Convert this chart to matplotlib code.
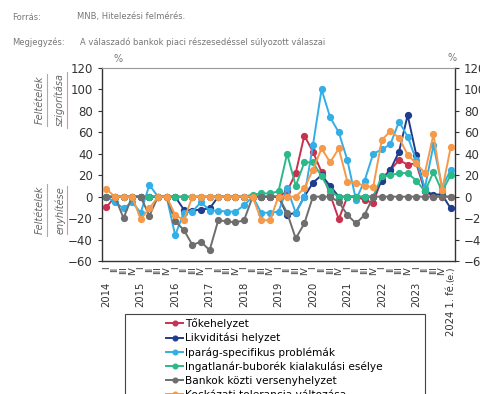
import numpy as np
import matplotlib
matplotlib.use("Agg")
import matplotlib.pyplot as plt
from matplotlib.patches import Rectangle
from matplotlib.lines import Line2D

# categories: 2014 I .. 2023 IV, then 2024 H1 (expected)
years = [str(y) for y in range(2014, 2024)] + ["2024 1. fé."]
quarters = ["I", "II", "III", "IV"]
quarter_labels = quarters * 10 + ["(e.)"]

tokehelyzet = [-10, 0, 0, 0, 0, 0, 0, 0, 0, 0, 0, 0, 0, 0, 0, 0, 0, 0, 0, 0,
               0, 5, 22, 57, 42, 23, 2, -21, 0, 0, -3, -6, 17, 25, 34, 30, 31, 5, 0, 0, 0]
likviditas = [0, 0, 0, 0, 0, 0, 0, 0, 0, -12, -13, -12, -11, 0, 0, 0, 0, 0, 0, 0,
              0, -17, -15, 0, 13, 20, 10, 0, 0, 0, 0, 0, 15, 25, 42, 76, 39, 5, 2, 2, -11]
iparag = [0, -5, -11, -5, -15, 11, 0, 0, -36, -15, -14, -5, -13, -13, -14, -14, -8, 0, -15, -15,
          -14, 8, -15, 0, 48, 100, 74, 60, 34, -3, 15, 40, 44, 49, 70, 56, 34, 8, 48, 9, 25]
ingatlan = [0, 0, 0, 0, 0, 0, 0, 0, 0, 0, 0, 0, 0, 0, 0, 0, 0, 2, 3, 3,
            5, 40, 10, 32, 32, 19, 5, 0, 0, 0, 0, 0, 19, 20, 22, 22, 15, 5, 23, 5, 20]
verseny = [0, 0, -20, 0, 0, -18, 0, 0, -23, -31, -45, -42, -50, -22, -23, -24, -22, 0, 0, 0,
           0, -15, -39, -25, 0, 0, 0, -5, -17, -25, -17, 0, 0, 0, 0, 0, 0, 0, 0, 0, 0]
kockazat = [7, 0, 0, 0, -21, -11, 0, 0, -17, -22, 0, 0, 0, 0, 0, 0, 0, 0, -22, -22,
            0, 0, 0, 8, 25, 45, 32, 45, 14, 13, 10, 9, 53, 61, 55, 39, 31, 22, 58, 6, 46]

series = [
    ("Tőkehelyzet", tokehelyzet, "#c8324e"),
    ("Likviditási helyzet", likviditas, "#1f3d8c"),
    ("Iparág-specifikus problémák", iparag, "#34aee6"),
    ("Ingatlanár-buborék kialakulási esélye", ingatlan, "#2bb98a"),
    ("Bankok közti versenyhelyzet", verseny, "#6e6e6e"),
    ("Kockázati tolerancia változása", kockazat, "#f5994a"),
]

W, H = 480, 394
fig = plt.figure(figsize=(4.8, 3.94), dpi=100)
ax = fig.add_axes([102 / W, 1 - 261 / H, (455 - 102) / W, (261 - 68) / H])

x = np.arange(len(quarter_labels))
handles = []
for name, vals, col in series:
    h, = ax.plot(x, vals, color=col, lw=1.4, marker="o", ms=4.2,
                 markeredgecolor=col, label=name, zorder=3)
    handles.append(h)

ax.set_xlim(-0.5, len(quarter_labels) - 0.5)
ax.set_ylim(-60, 120)
ax.set_yticks(np.arange(-60, 121, 20))
ax.tick_params(axis="y", labelsize=8.5, length=3, color="#333333", labelcolor="#333333")
ax.set_xticks(x)
ax.set_xticklabels(quarter_labels, rotation=90, fontsize=6.5, color="#333333")
ax.tick_params(axis="x", length=0, pad=4)
for s in ["left", "bottom", "right"]:
    ax.spines[s].set_color("#333333")
    ax.spines[s].set_linewidth(1.0)
ax.spines["top"].set_color("#999999")

# year labels under the first quarter of each year
for k, yl in enumerate(years):
    ax.annotate(yl, xy=(4 * k, 0), xycoords=("data", "axes fraction"),
                xytext=(0, -21), textcoords="offset pixels", rotation=90,
                ha="center", va="top", fontsize=7.2, color="#333333")

ax2 = ax.twinx()
ax2.set_ylim(-60, 120)
ax2.set_yticks(np.arange(-60, 121, 20))
ax2.tick_params(axis="y", labelsize=8.5, length=3, color="#333333", labelcolor="#333333")
for s in ax2.spines.values():
    s.set_visible(False)

grey = "#777777"
fig.text(12 / W, 1 - 17 / H, "Forrás:", fontsize=6, color=grey, va="center")
fig.text(77 / W, 1 - 17 / H, "MNB, Hitelezési felmérés.", fontsize=6, color=grey, va="center")
fig.text(12 / W, 1 - 42 / H, "Megjegyzés:", fontsize=6, color=grey, va="center")
fig.text(80 / W, 1 - 42 / H, "A válaszadó bankok piaci részesedéssel súlyozott válaszai",
         fontsize=6, color=grey, va="center")
fig.text(113 / W, 1 - 59 / H, "%", fontsize=7, color=grey, va="center")
fig.text(447 / W, 1 - 58 / H, "%", fontsize=7, color=grey, va="center")

# side labels (rotated, underlined in pink)
side = [
    (40, 100, "Feltételek", 74, 126),
    (60, 100, "szigorítása", 72, 128),
    (40, 210, "Feltételek", 184, 236),
    (60, 210, "enyhítése", 186, 234),
]
for sx, sy, txt, y0, y1 in side:
    fig.text(sx / W, 1 - sy / H, txt, rotation=90, fontsize=7, style="italic",
             color="#666666", ha="center", va="center")
    fig.add_artist(Line2D([(sx + 7) / W, (sx + 7) / W], [1 - y0 / H, 1 - y1 / H],
                          transform=fig.transFigure, color="#e68ab8", lw=0.8))

# legend box (cut by the bottom edge like the reference)
fig.add_artist(Rectangle((125 / W, -0.05), 300 / W, 1 - 314 / H + 0.05,
                         transform=fig.transFigure, fill=False, ec="#444444", lw=0.8))
fig.legend(handles=handles, loc="upper left", bbox_to_anchor=(162 / W, 1 - 314 / H),
           frameon=False, fontsize=7.6, labelspacing=0.36, handlelength=1.6,
           handletextpad=0.2, borderaxespad=0, markerscale=0.8)

fig.savefig("out.png", dpi=100)
